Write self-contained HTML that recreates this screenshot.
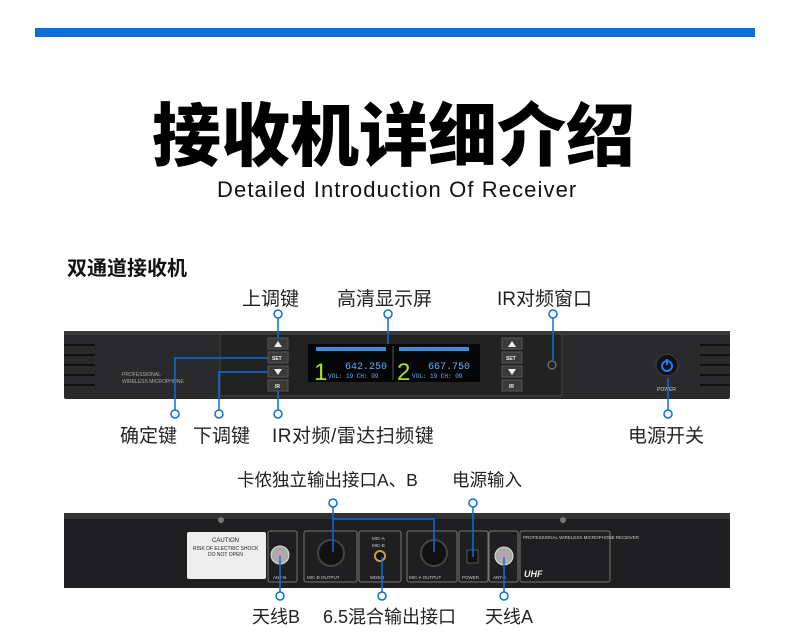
<!DOCTYPE html>
<html><head><meta charset="utf-8"><style>
body{margin:0;width:790px;height:638px;background:#fff;overflow:hidden;position:relative;font-family:"Liberation Sans","Noto Sans CJK SC",sans-serif}
.t{position:absolute;white-space:nowrap;color:#222}
</style></head><body>
<div style="position:absolute;left:35px;top:28px;width:720px;height:9px;background:#0a6fd8"></div>
<div class="t" style="left:152px;top:80px;font-size:69px;font-weight:900;color:#000;letter-spacing:0px;font-family:'Noto Sans CJK SC',sans-serif">接收机详细介绍</div>
<div class="t" style="left:217px;top:177px;font-size:22px;color:#111;letter-spacing:1.1px">Detailed Introduction Of Receiver</div>
<div class="t" style="left:67px;top:252px;font-size:20px;font-weight:bold;color:#111">双通道接收机</div>

<div class="t" style="left:242px;top:284px;font-size:19px">上调键</div>
<div class="t" style="left:337px;top:284px;font-size:19px">高清显示屏</div>
<div class="t" style="left:497px;top:284px;font-size:19px">IR对频窗口</div>
<div class="t" style="left:120px;top:421px;font-size:19px">确定键</div>
<div class="t" style="left:193px;top:421px;font-size:19px">下调键</div>
<div class="t" style="left:272px;top:421px;font-size:19px;letter-spacing:0.5px">IR对频/雷达扫频键</div>
<div class="t" style="left:628px;top:421px;font-size:19px">电源开关</div>

<div class="t" style="left:237px;top:467px;font-size:17.5px">卡侬独立输出接口A、B</div>
<div class="t" style="left:452px;top:467px;font-size:17.5px">电源输入</div>
<div class="t" style="left:252px;top:603px;font-size:18px">天线B</div>
<div class="t" style="left:323px;top:603px;font-size:18px">6.5混合输出接口</div>
<div class="t" style="left:485px;top:603px;font-size:18px">天线A</div>

<svg width="790" height="638" style="position:absolute;left:0;top:0">
<rect x="64" y="331" width="666" height="68" rx="2" fill="#2a2a2c"/>
<rect x="64" y="331" width="666" height="4" fill="#3a3a3c"/>
<g stroke="#111" stroke-width="2">
<line x1="64" y1="345" x2="95" y2="345"/><line x1="64" y1="355" x2="95" y2="355"/><line x1="64" y1="365" x2="95" y2="365"/><line x1="64" y1="375" x2="95" y2="375"/><line x1="64" y1="385" x2="95" y2="385"/>
<line x1="700" y1="345" x2="730" y2="345"/><line x1="700" y1="355" x2="730" y2="355"/><line x1="700" y1="365" x2="730" y2="365"/><line x1="700" y1="375" x2="730" y2="375"/><line x1="700" y1="385" x2="730" y2="385"/>
</g>
<rect x="220" y="334" width="342" height="62" rx="3" fill="#222" stroke="#444"/>
<text x="122" y="376" font-size="5" fill="#aaa" font-family="Liberation Sans">PROFESSIONAL</text>
<text x="122" y="383" font-size="5" fill="#aaa" font-family="Liberation Sans">WIRELESS MICROPHONE</text>
<g fill="#3a3a3a" stroke="#555">
<rect x="268" y="338" width="20" height="11"/><rect x="268" y="352" width="20" height="11"/><rect x="268" y="366" width="20" height="11"/><rect x="268" y="380" width="20" height="11"/>
<rect x="502" y="338" width="20" height="11"/><rect x="502" y="352" width="20" height="11"/><rect x="502" y="366" width="20" height="11"/><rect x="502" y="380" width="20" height="11"/>
</g>
<g fill="#eee" font-size="5" font-family="Liberation Sans" font-weight="bold">
<text x="272" y="360">SET</text><text x="275" y="388">IR</text><text x="506" y="360">SET</text><text x="509" y="388">IR</text>
<polygon points="278,341 274,347 282,347"/><polygon points="274,369 282,369 278,375"/>
<polygon points="512,341 508,347 516,347"/><polygon points="508,369 516,369 512,375"/>
</g>
<rect x="308" y="344" width="172" height="38" fill="#050608"/>
<rect x="316" y="347" width="70" height="4" fill="#3a8fd8"/><rect x="399" y="347" width="70" height="4" fill="#3a8fd8"/>
<line x1="393" y1="346" x2="393" y2="380" stroke="#555"/>
<text x="314" y="380" font-size="24" fill="#a8e020" font-family="Liberation Sans">1</text>
<text x="397" y="380" font-size="24" fill="#a8e020" font-family="Liberation Sans">2</text>
<text x="345" y="369" font-size="10" fill="#6ab0f0" font-family="Liberation Mono">642.250</text>
<text x="428" y="369" font-size="10" fill="#6ab0f0" font-family="Liberation Mono">667.750</text>
<text x="328" y="378" font-size="6" fill="#6ab0f0" font-family="Liberation Mono">VOL: 19  CH: 09</text>
<text x="412" y="378" font-size="6" fill="#6ab0f0" font-family="Liberation Mono">VOL: 19  CH: 09</text>
<circle cx="552" cy="365" r="4" fill="#222" stroke="#888"/>
<circle cx="667" cy="365" r="11" fill="#111" stroke="#333" stroke-width="2"/>
<circle cx="667" cy="366" r="5" fill="none" stroke="#1e7cff" stroke-width="2"/>
<line x1="667" y1="359" x2="667" y2="365" stroke="#1e7cff" stroke-width="2"/>
<text x="657" y="391" font-size="5" fill="#ccc" font-family="Liberation Sans">POWER</text>

<g stroke="#0a6fd8" stroke-width="1.5" fill="none">
<line x1="278" y1="318" x2="278" y2="338"/><line x1="388" y1="318" x2="388" y2="344"/><line x1="553" y1="318" x2="553" y2="360"/>
<polyline points="268,358 175,358 175,410"/><polyline points="268,372 219,372 219,410"/>
<line x1="278" y1="391" x2="278" y2="410"/><line x1="668" y1="378" x2="668" y2="410"/>
</g>
<g stroke="#0a6fd8" stroke-width="1.5" fill="#fff">
<circle cx="278" cy="314" r="4"/><circle cx="388" cy="314" r="4"/><circle cx="553" cy="314" r="4"/>
<circle cx="175" cy="414" r="4"/><circle cx="219" cy="414" r="4"/><circle cx="278" cy="414" r="4"/><circle cx="668" cy="414" r="4"/>
</g>

<rect x="64" y="513" width="666" height="75" fill="#1f1f21"/>
<rect x="64" y="513" width="666" height="6" fill="#333"/>
<circle cx="221" cy="520" r="3" fill="#777"/><circle cx="563" cy="520" r="3" fill="#777"/>
<rect x="187" y="532" width="79" height="47" rx="2" fill="#eee"/>
<text x="212" y="542" font-size="6" fill="#222" font-family="Liberation Sans">CAUTION</text>
<text x="193" y="550" font-size="5" fill="#222" font-family="Liberation Sans">RISK OF ELECTRIC SHOCK</text>
<text x="208" y="556" font-size="5" fill="#222" font-family="Liberation Sans">DO NOT OPEN</text>
<g fill="none" stroke="#777" stroke-width="1">
<rect x="268" y="531" width="29" height="51" rx="2"/><rect x="304" y="531" width="53" height="51" rx="2"/><rect x="359" y="531" width="42" height="51" rx="2"/><rect x="407" y="531" width="50" height="51" rx="2"/><rect x="459" y="531" width="29" height="51" rx="2"/><rect x="489" y="531" width="29" height="51" rx="2"/><rect x="520" y="531" width="90" height="51" rx="2"/>
</g>
<circle cx="280" cy="555" r="9" fill="#aaa" stroke="#ddd"/><circle cx="280" cy="555" r="3" fill="#c9a"/>
<circle cx="504" cy="556" r="9" fill="#aaa" stroke="#ddd"/><circle cx="504" cy="556" r="3" fill="#c9a"/>
<circle cx="331" cy="553" r="13" fill="#111" stroke="#444" stroke-width="2"/>
<circle cx="434" cy="553" r="13" fill="#111" stroke="#444" stroke-width="2"/>
<circle cx="380" cy="556" r="5" fill="#111" stroke="#c9a040" stroke-width="2"/>
<rect x="467" y="550" width="11" height="13" fill="#111" stroke="#555"/>
<g font-size="4.5" fill="#ccc" font-family="Liberation Sans">
<text x="273" y="579">ANT-B</text><text x="307" y="579">MIC-B OUTPUT</text><text x="370" y="579">MIXED</text><text x="409" y="579">MIC-A OUTPUT</text><text x="462" y="579">POWER</text><text x="493" y="579">ANT-A</text>
<text x="372" y="540">MIC-A</text><text x="372" y="547">MIC-B</text>
<text x="523" y="539">PROFESSIONAL WIRELESS MICROPHONE RECEIVER</text>
</g>
<text x="524" y="577" font-size="9" font-weight="bold" font-style="italic" fill="#eee" font-family="Liberation Sans">UHF</text>

<g stroke="#0a6fd8" stroke-width="1.5" fill="none">
<line x1="333" y1="507" x2="333" y2="552"/><polyline points="333,519 434,519 434,552"/>
<line x1="473" y1="507" x2="473" y2="557"/>
<line x1="280" y1="556" x2="280" y2="592"/><line x1="382" y1="557" x2="382" y2="592"/><line x1="504" y1="557" x2="504" y2="592"/>
</g>
<g stroke="#0a6fd8" stroke-width="1.5" fill="#fff">
<circle cx="333" cy="503" r="4"/><circle cx="473" cy="503" r="4"/>
<circle cx="280" cy="596" r="4"/><circle cx="382" cy="596" r="4"/><circle cx="504" cy="596" r="4"/>
</g>
</svg>
</body></html>
